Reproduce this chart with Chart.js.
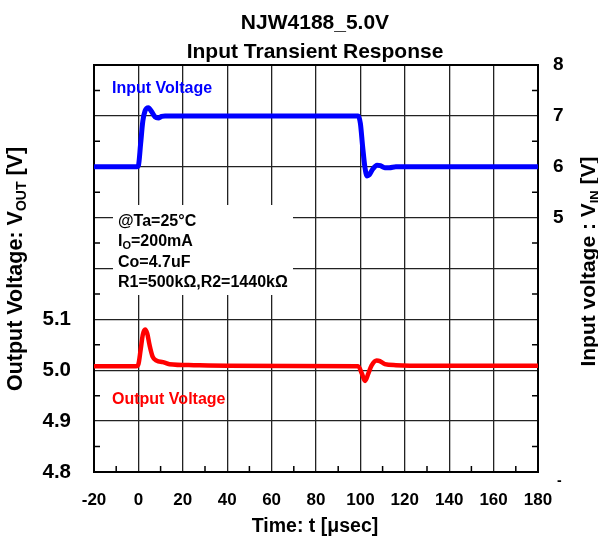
<!DOCTYPE html>
<html>
<head>
<meta charset="utf-8">
<script src="https://cdn.jsdelivr.net/npm/chart.js@4.4.0/dist/chart.umd.min.js"></script>
<style>
  html, body { margin: 0; padding: 0; background: #fff; }
</style>
</head>
<body>
<canvas id="chart" width="598" height="541"></canvas>
<script>
// ── data ─────────────────────────────────────────────
const timeIn  = [-20, -0.5, 0, 1, 2, 3, 4.5, 6, 7.5, 9, 10.5, 12, 99, 100, 101, 102, 103, 104, 105.5, 107.5, 109, 111, 113, 116, 180];
const voltIn  = [6.0, 6.0, 6.02, 6.45, 6.9, 7.1, 7.16, 7.08, 6.98, 6.96, 6.99, 7.0, 7.0, 6.85, 6.4, 6.0, 5.82, 5.84, 5.95, 6.03, 6.02, 5.98, 5.98, 6.0, 6.0];

const timeOut = [-20, -1, 0, 1, 2, 3, 4, 5, 6.4, 8.2, 11, 14, 25, 40, 99, 100.6, 102.1, 103.6, 105, 107.3, 108.8, 111, 116, 130, 180];
const voltOut = [5.008, 5.008, 5.012, 5.04, 5.07, 5.08, 5.072, 5.05, 5.027, 5.019, 5.016, 5.012, 5.010, 5.009, 5.008, 4.994, 4.979, 4.994, 5.009, 5.019, 5.018, 5.012, 5.010, 5.009, 5.009];

const xRange   = [-20, 180];
const outRange = [4.8, 5.6];   // left axis
const inRange  = [0, 8];       // right axis
const outLabelMax = 5.1;
const inLabelMin  = 5;

const FONT = "'Liberation Sans', Arial, sans-serif";

// draw text made of parts [text, size, dy] along one baseline
function richText(ctx, parts, x, y, align) {
  let w = 0;
  parts.forEach(p => { ctx.font = `bold ${p[1]}px ${FONT}`; p.w = ctx.measureText(p[0]).width; w += p.w; });
  let cx = align === 'center' ? x - w / 2 : x;
  parts.forEach(p => {
    ctx.font = `bold ${p[1]}px ${FONT}`;
    ctx.fillText(p[0], cx, y + (p[2] || 0));
    cx += p.w;
  });
}

const decor = {
  id: 'decor',
  beforeDatasetsDraw(chart) {
    const ctx = chart.ctx;
    ctx.save();
    ctx.fillStyle = '#fff';
    ctx.fillRect(113, 205, 180, 90);
    ctx.restore();
  },
  afterDraw(chart) {
    const ctx = chart.ctx;
    const { left, right, top, bottom } = chart.chartArea;
    const xs = chart.scales.x, ys = chart.scales.y;
    ctx.save();

    // top border
    ctx.strokeStyle = '#000';
    ctx.lineWidth = 2;
    ctx.beginPath(); ctx.moveTo(left - 1, top); ctx.lineTo(right + 1, top); ctx.stroke();

    // minor ticks
    ctx.lineWidth = 1.5;
    ctx.beginPath();
    for (let t = xRange[0] + 10; t < xRange[1]; t += 20) {
      const px = xs.getPixelForValue(t);
      ctx.moveTo(px, bottom); ctx.lineTo(px, bottom - 6);
    }
    for (let k = 0; k < 8; k++) {
      const py = ys.getPixelForValue(outRange[0] + 0.05 + k * 0.1);
      ctx.moveTo(left, py); ctx.lineTo(left + 6, py);
      ctx.moveTo(right, py); ctx.lineTo(right - 6, py);
    }
    ctx.stroke();

    ctx.fillStyle = '#000';
    ctx.textBaseline = 'alphabetic';
    ctx.textAlign = 'left';

    // titles
    richText(ctx, [['NJW4188_5.0V', 21]], 315, 28.5, 'center');
    richText(ctx, [['Input Transient Response', 21]], 315, 58, 'center');
    richText(ctx, [['Time: t [\u03bcsec]', 19.5]], 315, 532, 'center');

    // annotation
    richText(ctx, [['@Ta=25\u00b0C', 16]], 118, 226, 'left');
    richText(ctx, [['I', 16], ['O', 11, 3], ['=200mA', 16]], 118, 246, 'left');
    richText(ctx, [['Co=4.7uF', 16]], 118, 266.5, 'left');
    richText(ctx, [['R1=500k\u03a9,R2=1440k\u03a9', 16]], 118, 286.5, 'left');

    // series labels
    ctx.fillStyle = '#0000ff';
    richText(ctx, [['Input Voltage', 16]], 112, 92.5, 'left');
    ctx.fillStyle = '#ff0000';
    richText(ctx, [['Output Voltage', 16]], 112, 404, 'left');

    // axis titles
    ctx.fillStyle = '#000';
    ctx.save();
    ctx.translate(22, 269);
    ctx.rotate(-Math.PI / 2);
    richText(ctx, [['Output Voltage: V', 21.5], ['OUT', 14, 4], [' [V]', 21.5]], 0, 0, 'center');
    ctx.restore();

    ctx.save();
    ctx.translate(595, 261.5);
    ctx.rotate(-Math.PI / 2);
    richText(ctx, [['Input voltage : V', 21], ['IN', 13, 4], [' [V]', 21]], 0, 0, 'center');
    ctx.restore();

    richText(ctx, [['-', 14]], 557, 485, 'left');
    ctx.restore();
  }
};

const tickFont = size => ({ family: FONT, size, weight: 'bold' });

new Chart(document.getElementById('chart'), {
  type: 'line',
  data: {
    datasets: [
      {
        label: 'Input Voltage',
        data: timeIn.map((t, i) => ({ x: t, y: voltIn[i] })),
        yAxisID: 'y1',
        borderColor: '#0000ff',
        borderWidth: 5
      },
      {
        label: 'Output Voltage',
        data: timeOut.map((t, i) => ({ x: t, y: voltOut[i] })),
        yAxisID: 'y',
        borderColor: '#ff0000',
        borderWidth: 4.5
      }
    ]
  },
  options: {
    responsive: false,
    animation: false,
    layout: { padding: { top: 65, left: 0, right: 0, bottom: 0 } },
    elements: { point: { radius: 0 }, line: { cubicInterpolationMode: 'monotone' } },
    plugins: { legend: { display: false }, tooltip: { enabled: false } },
    scales: {
      x: {
        type: 'linear', position: 'bottom', min: xRange[0], max: xRange[1],
        ticks: { stepSize: 20, color: '#000', font: tickFont(17), padding: 18, maxRotation: 0 },
        grid: { color: '#222', lineWidth: 1.3, drawTicks: false },
        border: { color: '#000', width: 2 },
        afterFit: s => { s.height = 69; }
      },
      y: {
        position: 'left', min: outRange[0], max: outRange[1],
        ticks: {
          stepSize: 0.1, color: '#000', font: tickFont(20.5), padding: 23,
          callback: v => v <= outLabelMax + 0.01 ? v.toFixed(1) : ''
        },
        grid: { color: '#222', lineWidth: 1.3, drawTicks: false },
        border: { color: '#000', width: 2 },
        afterFit: s => { s.width = 94; }
      },
      y1: {
        position: 'right', min: inRange[0], max: inRange[1],
        ticks: {
          stepSize: 1, color: '#000', font: tickFont(19), padding: 15,
          callback: v => v >= inLabelMin ? String(v) : ''
        },
        grid: { display: false, drawTicks: false },
        border: { color: '#000', width: 2 },
        afterFit: s => { s.width = 60; }
      }
    }
  },
  plugins: [decor]
});
</script>
</body>
</html>
